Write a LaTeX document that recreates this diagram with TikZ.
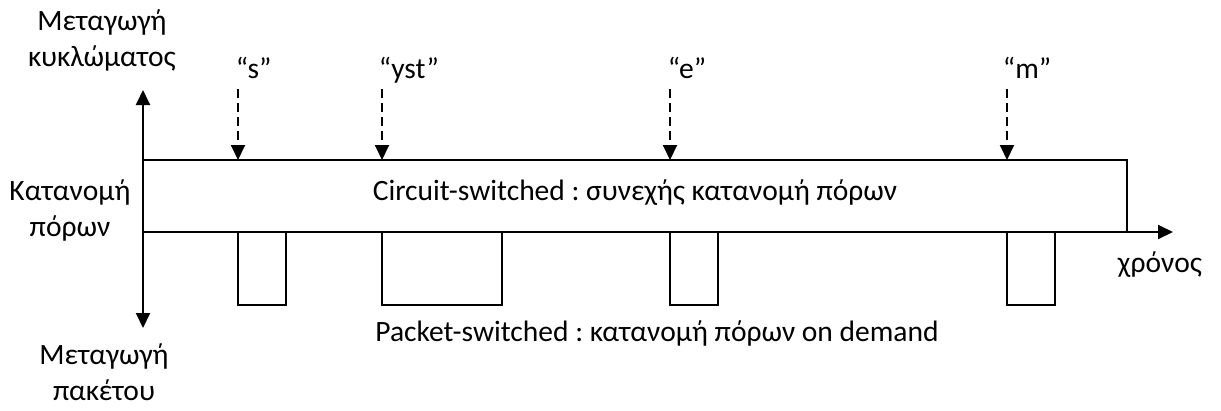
\documentclass[tikz,border=0pt]{standalone}
\usepackage{fontspec}
\setmainfont{Carlito}
\usetikzlibrary{arrows.meta}
\frenchspacing

\begin{document}
\begin{tikzpicture}[x=0.02cm,y=-0.02cm,line width=1.1pt,
  >={Triangle[length=0.3cm,width=0.28cm]},
  txt/.style={font=\fontsize{16.8}{20.4}\selectfont,align=center,inner sep=0pt},
  hint/.style={->,dash pattern=on 0.18cm off 0.1cm}]
\useasboundingbox (0,0) rectangle (1221,410);

\coordinate (O) at (143,232);
\coordinate (U) at (143,90);
\coordinate (D) at (143,328);
\coordinate (T) at (1173,232);
\coordinate (C1) at (143,160);
\coordinate (C2) at (1127,160);
\coordinate (C3) at (1127,232);

% circuit-switched band
\draw (O) -- (C1) -- (C2) -- (C3);
% packets below the time axis
\draw (238,232) rectangle (286,305);
\draw (382,232) rectangle (502,305);
\draw (670,232) rectangle (718,305);
\draw (1007,232) rectangle (1055,305);

% axes
\draw[->] (O) -- (U);
\draw[->] (O) -- (D);
\draw[->] (O) -- (T);

% events
\coordinate (Sa) at (238,89);  \coordinate (Sb) at (238,160);
\coordinate (Ya) at (382,89);  \coordinate (Yb) at (382,160);
\coordinate (Ea) at (670,89);  \coordinate (Eb) at (670,160);
\coordinate (Ma) at (1007,89); \coordinate (Mb) at (1007,160);
\draw[hint] (Sa) -- (Sb);
\draw[hint] (Ya) -- (Yb);
\draw[hint] (Ea) -- (Eb);
\draw[hint] (Ma) -- (Mb);

\node [txt,anchor=base west] (s) at (235,78) {“s”};
\node [txt,anchor=base west] (yst) at (378,78) {“yst”};
\node [txt,anchor=base west] (e) at (667,78) {“e”};
\node [txt,anchor=base west] (m) at (1002,78) {“m”};

% multi-line labels sit on their last baseline
\node [txt,anchor=base] (circ) at (102,66) {Μεταγωγή\\κυκλώματος};
\node [txt,anchor=base] (res) at (70,236) {Κατανομή\\πόρων};
\node [txt,anchor=base] (pack) at (104,400) {Μεταγωγή\\πακέτου};
\node [txt,anchor=base] (time) at (1160,272) {χρόνος};
\node [txt,anchor=base] (cs) at (635,200) {Circuit-switched : συνεχής κατανομή πόρων};
\node [txt,anchor=base] (ps) at (657,341) {Packet-switched : κατανομή πόρων on demand};
\end{tikzpicture}
\end{document}
